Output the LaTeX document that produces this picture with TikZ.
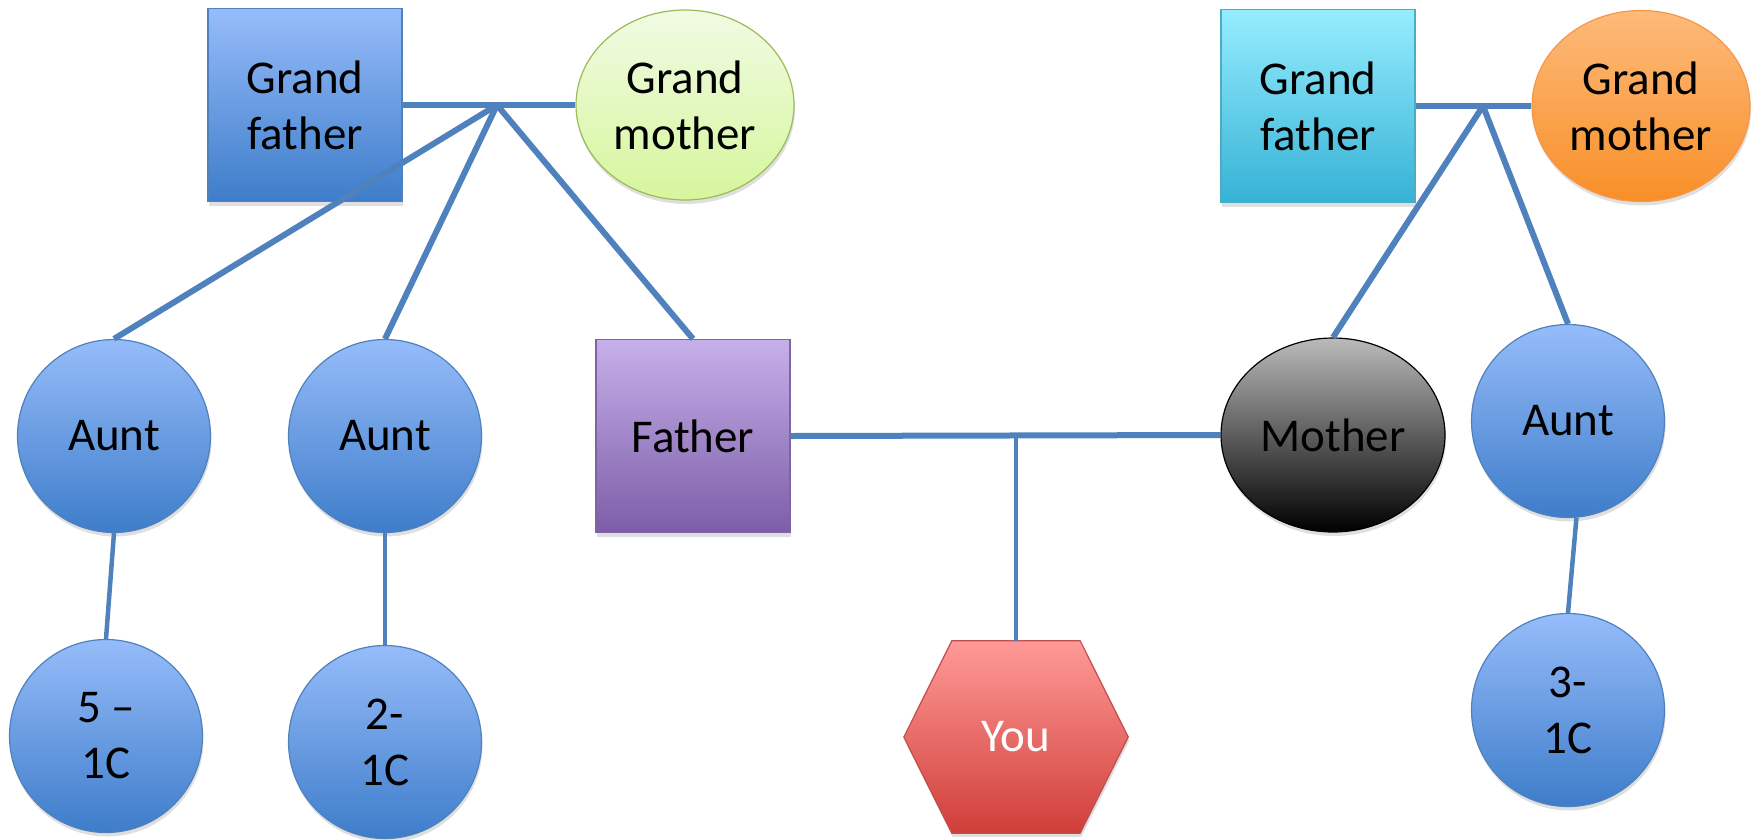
\documentclass[tikz,border=0pt]{standalone}
\usepackage{fontspec}
\setmainfont{Carlito}
\usetikzlibrary{calc,shapes.geometric,shadows,backgrounds}
\definecolor{linkblue}{RGB}{79,129,189}
\definecolor{bluetop}{RGB}{150,188,250}
\definecolor{bluebot}{RGB}{62,125,202}
\definecolor{greentop}{RGB}{241,251,228}
\definecolor{greenbot}{RGB}{214,246,156}
\definecolor{greenline}{RGB}{155,187,89}
\definecolor{purpletop}{RGB}{198,176,234}
\definecolor{purplebot}{RGB}{125,93,168}
\definecolor{purpleline}{RGB}{128,100,162}
\definecolor{cyantop}{RGB}{150,237,255}
\definecolor{cyanbot}{RGB}{54,178,213}
\definecolor{cyanline}{RGB}{75,172,198}
\definecolor{orangetop}{RGB}{253,186,122}
\definecolor{orangebot}{RGB}{248,143,40}
\definecolor{orangeline}{RGB}{247,150,70}
\definecolor{redtop}{RGB}{255,154,152}
\definecolor{redbot}{RGB}{208,62,56}
\definecolor{redline}{RGB}{192,80,77}
\tikzset{
	softshadow/.style={drop shadow={shadow xshift=1pt, shadow yshift=-4pt, opacity=0.25}},
	label text/.style={align=center, inner sep=0pt, font=\fontsize{47}{56}\selectfont},
	person/.style={label text, draw, line width=1.2pt, softshadow},
	boxperson/.style={person, rectangle, minimum width=194pt, minimum height=193pt},
	roundperson/.style={person, circle, minimum size=193pt, draw=linkblue, top color=bluetop, bottom color=bluebot},
	ovalperson/.style={person, ellipse},
	link/.style={draw=linkblue, line width=6pt},
	childlink/.style={draw=linkblue, line width=4.5pt},
}

\begin{document}
\begin{tikzpicture}[x=1pt, y=-1pt]
			%%%%% START %%%%%
			\useasboundingbox (0, 0) rectangle (1756, 839);
			
			% father's side
			\node[boxperson, draw=linkblue, top color=bluetop, bottom color=bluebot] (gfL) at (305, 105) {Grand\\father};
			\node[ovalperson, minimum width=218pt, minimum height=190pt, draw=greenline, top color=greentop, bottom color=greenbot] (gmL) at (685, 105) {Grand\\mother};
			\node[roundperson] (auntA) at (114, 436) {Aunt};
			\node[roundperson] (auntB) at (385, 436) {Aunt};
			\node[boxperson, draw=purpleline, top color=purpletop, bottom color=purplebot] (father) at (693, 436) {Father};
			\node[roundperson] (cousinA) at (106, 736) {5 –\\1C};
			\node[roundperson] (cousinB) at (385, 742) {2-\\1C};
			
			% mother's side
			\node[boxperson, draw=cyanline, top color=cyantop, bottom color=cyanbot] (gfR) at (1318, 106) {Grand\\father};
			\node[ovalperson, minimum width=218pt, minimum height=191pt, draw=orangeline, top color=orangetop, bottom color=orangebot] (gmR) at (1641, 106) {Grand\\mother};
			\node[ovalperson, minimum width=224pt, minimum height=194pt, draw=black, top color=black!27, bottom color=black] (mother) at (1333, 435) {Mother};
			\node[roundperson] (auntC) at (1568, 421) {Aunt};
			\node[roundperson] (cousinC) at (1568, 710) {3-\\1C};
			
			% you
			\node[label text, minimum width=224pt, minimum height=192pt, text=white] (you) at (1016, 737) {You};
			\begin{scope}[on background layer]
				\shade[draw=redline, line width=1.2pt, top color=redtop, bottom color=redbot, softshadow]
					(you.west) -- ([xshift=48pt]you.north west) -- ([xshift=-48pt]you.north east)
					-- (you.east) -- ([xshift=-48pt]you.south east) -- ([xshift=48pt]you.south west) -- cycle;
			\end{scope}
			
			\coordinate (jL) at (497, 105);
			\coordinate (jR) at (1483, 106);
			\coordinate (jM) at (1016, 435);
			
			\draw[link] (gfL.east) -- (gmL.west);
			\draw[link] (jL) -- (auntA.north);
			\draw[link] (jL) -- (auntB.north);
			\draw[link] (jL) -- (father.north);
			
			\draw[link] (gfR.east) -- (gmR.west);
			\draw[link] (jR) -- (mother.north);
			\draw[link] (jR) -- (auntC.north);
			
			\draw[link] (father.east) -- (mother.west);
			\draw[childlink] (jM) -- (you.north);
			
			\draw[childlink] (auntA.south) -- (cousinA.north);
			\draw[childlink] (auntB.south) -- (cousinB.north);
			\draw[childlink] (auntC.-85) -- (cousinC.north);
			
			%%%%% END %%%%%
\end{tikzpicture}
\end{document}
